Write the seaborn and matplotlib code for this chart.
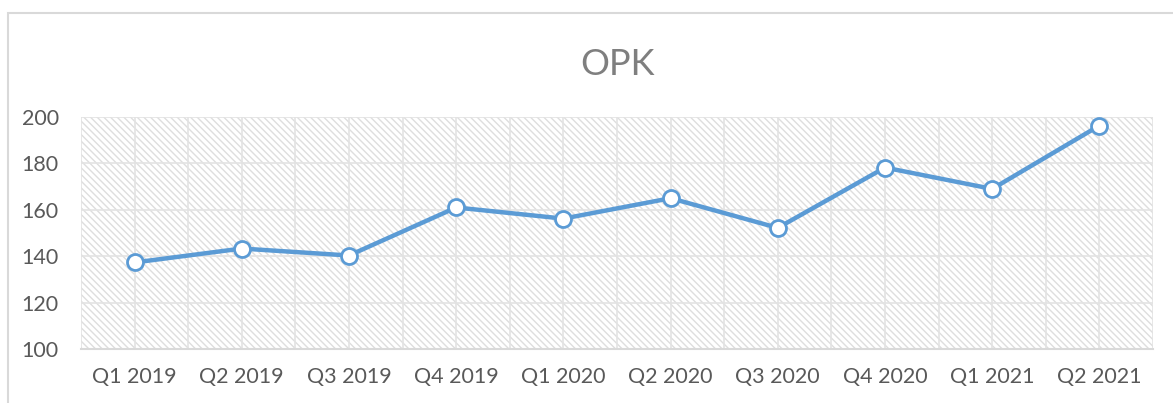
import pandas as pd
import seaborn as sns
import matplotlib.pyplot as plt
from matplotlib.patches import Rectangle

kwartaly = ['Q1 2019', 'Q2 2019', 'Q3 2019', 'Q4 2019', 'Q1 2020',
            'Q2 2020', 'Q3 2020', 'Q4 2020', 'Q1 2021', 'Q2 2021']
opk = [137.3, 143.3, 140.3, 161.0, 156.2, 165.0, 152.2, 178.2, 169.0, 196.3]
y_ticks = [100, 120, 140, 160, 180, 200]

df = pd.DataFrame({'Kwartal': kwartaly, 'OPK': opk})

sns.set_style('white')
plt.rcParams['font.family'] = ['Lato', 'DejaVu Sans']
plt.rcParams['hatch.color'] = '#dedede'
plt.rcParams['hatch.linewidth'] = 1.0

fig = plt.figure(figsize=(11.73, 4.03), dpi=100)
ax = fig.add_axes([81 / 1173, 54 / 403, 1072 / 1173, 232 / 403])

# ramka calego wykresu
fig.patches.append(Rectangle((8 / 1173, -0.1), 2, (403 - 13) / 403 + 0.1,
                             transform=fig.transFigure, fill=False,
                             edgecolor='#d9d9d9', linewidth=1.5))

# tlo w ukosne paski
ax.patch.set_facecolor('white')
ax.patch.set_hatch('\\\\\\\\\\')
ax.patch.set_edgecolor('#dedede')
ax.patch.set_linewidth(0)

sns.lineplot(data=df, x='Kwartal', y='OPK', ax=ax, color='#5b9bd5',
             linewidth=3.2, marker='o', markersize=11.5,
             markerfacecolor='white', markeredgecolor='#5b9bd5',
             markeredgewidth=2.0, zorder=5, clip_on=False)

ax.set_xlim(-0.5, len(kwartaly) - 0.5)
ax.set_ylim(100, 200)
ax.set_yticks(y_ticks)
ax.set_xticks(range(len(kwartaly)))
ax.set_xticks([i - 0.5 for i in range(len(kwartaly) + 1)], minor=True)
ax.set_xticklabels(kwartaly)

ax.grid(True, which='both', color='#e3e3e3', linewidth=1.2)
ax.set_axisbelow(True)

for s in ['top', 'right', 'left']:
    ax.spines[s].set_visible(False)
ax.spines['bottom'].set_color('#d9d9d9')
ax.spines['bottom'].set_linewidth(1.5)

ax.tick_params(axis='both', which='both', length=0, labelsize=15.5,
               labelcolor='#595959')
ax.tick_params(axis='x', pad=13)
ax.tick_params(axis='y', pad=16)

ax.set_xlabel('')
ax.set_ylabel('')
ax.set_title('OPK', fontsize=26, color='#7f7f7f', pad=30)

plt.savefig('out.png', dpi=100)
